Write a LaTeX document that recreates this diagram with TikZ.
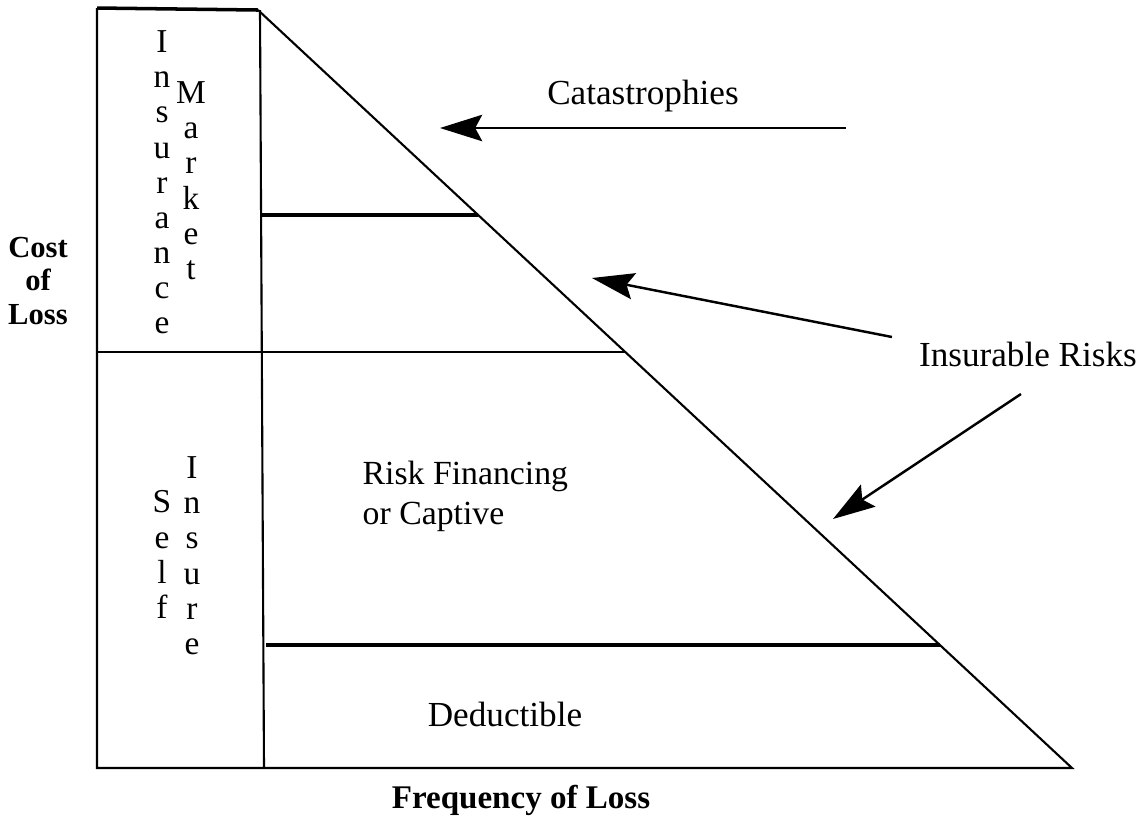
\documentclass[tikz,border=0pt]{standalone}
\usepackage{fontspec}
\setmainfont{Liberation Serif}
\usetikzlibrary{arrows.meta}

\begin{document}
\begin{tikzpicture}[x=0.01cm, y=-0.01cm,
  rule/.style={line width=0.6pt},
  heavy/.style={line width=1pt},
  pointer/.style={line width=0.7pt, -{Stealth[length=12pt, width=7.5pt, inset=2pt]}},
  label/.style={font=\fontsize{10}{12}\selectfont, inner sep=0pt},
  axis/.style={font=\bfseries\fontsize{8.7}{9.4}\selectfont, inner sep=0pt, align=center},
  letters/.style={font=\fontsize{9.5}{10}\selectfont, inner sep=0pt, align=center, anchor=north}
]
\useasboundingbox (0,0) rectangle (1141,817);

% corners of the pyramid
\coordinate (top) at (258,10);
\coordinate (foot) at (1072,768);
\coordinate (origin) at (97,768);

% frame and column
\draw[heavy] (97,8) -- (top);
\draw[rule] (97,8) -- (origin) -- (foot) -- (top);
\draw[rule] (260,10) -- (264,768);
\draw[heavy] (261,215) -- (478,215);
\draw[rule] (97,352) -- (625,352);
\draw[heavy] (266,645) -- (940,645);

% column texts
\node[letters] (ins) at (162,30) {I\\n\\s\\u\\r\\a\\n\\c\\e};
\node[letters] (mkt) at (191,81) {M\\a\\r\\k\\e\\t};
\node[letters] (self) at (162,490) {S\\e\\l\\f};
\node[letters] (insure) at (192,456) {I\\n\\s\\u\\r\\e};

% labels
\node[label] (cat) at (643,96) {Catastrophies};
\node[label] (risks) at (1028,354) {Insurable Risks};
\node[label, align=left, anchor=west, font=\fontsize{9.6}{11.4}\selectfont] (captive) at (362,496) {Risk Financing\\or Captive};
\node[label] (deduct) at (505,714) {Deductible};
\node[axis] (cost) at (38,281) {Cost\\of\\Loss};
\node[axis, font=\bfseries\fontsize{9.4}{11}\selectfont] (freq) at (521,800) {Frequency of Loss};

% arrows
\coordinate (catfrom) at (846,128);
\coordinate (catto) at (440,128);
\coordinate (riskfrom1) at (892,337);
\coordinate (riskto1) at (592,278);
\coordinate (riskfrom2) at (1021,394);
\coordinate (riskto2) at (833,519);
\draw[pointer] (catfrom) -- (catto);
\draw[pointer] (riskfrom1) -- (riskto1);
\draw[pointer] (riskfrom2) -- (riskto2);
\end{tikzpicture}
\end{document}
